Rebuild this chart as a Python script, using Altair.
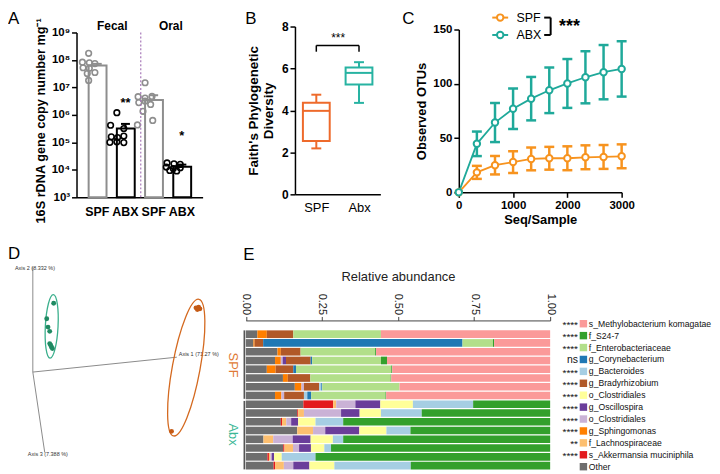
import altair as alt
import pandas as pd

FONT = "Liberation Sans"
BLACK = "#000000"

# ================= Panel A : 16S copy number =================
a_categories = ["Fecal SPF", "Fecal ABX", "Oral SPF", "Oral ABX"]
a_groups = ["SPF", "ABX", "SPF", "ABX"]
a_mean = [6.3e7, 3.2e5, 3.5e6, 1.3e4]
a_sem_top = [7.2e7, 4.7e5, 5.2e6, 1.55e4]
a_fecal_spf = [1.74e8, 8.3e7, 7.9e7, 7.4e7, 5.2e7, 5.0e7, 3.5e7, 3.2e7, 1.8e7]
a_fecal_spf_jit = [0.0, -0.9, 0.1, 0.9, -0.8, 0.1, 0.9, -0.2, 0.0]
a_fecal_abx = [1.2e6, 4.2e5, 3.2e5, 1.6e5, 1.5e5, 1.7e5, 1.0e5, 1.05e5, 0.98e5]
a_fecal_abx_jit = [0.0, -0.9, 1.0, -0.8, 0.1, 1.0, -1.0, 0.0, 1.0]
a_oral_spf = [1.48e7, 4.6e6, 4.1e6, 4.7e6, 2.8e6, 3.2e6, 2.4e6, 1.35e6, 6.3e5, 4.3e5]
a_oral_spf_jit = [0.0, -1.0, 0.0, 1.0, -0.9, 0.0, 0.8, -0.3, 1.1, -1.1]
a_oral_abx = [1.78e4, 1.66e4, 1.58e4, 1.26e4, 1.12e4, 1.2e4, 9.5e3, 9.1e3]
a_oral_abx_jit = [-0.9, 0.1, 1.0, -1.0, 0.0, 1.0, -0.5, 0.5]
a_sig_cat = ["Fecal ABX", "Oral ABX"]
a_sig_text = ["**", "*"]
a_sig_y = [2.8e6, 1.7e5]
a_ticks = [1e3, 1e4, 1e5, 1e6, 1e7, 1e8, 1e9]

# ================= Panel B : Faith's PD =================
b_groups = ["SPF", "Abx"]
b_min = [2.19, 4.36]
b_q1 = [2.54, 5.24]
b_median = [3.98, 5.79]
b_q3 = [4.37, 6.05]
b_max = [4.75, 6.30]
b_ticks = [0, 2, 4, 6, 8]

# ================= Panel C : rarefaction =================
c_depth = [0, 333, 667, 1000, 1333, 1667, 2000, 2333, 2667, 3000]
c_spf_mean = [0, 18.4, 25.0, 27.9, 30.8, 31.4, 31.4, 32.3, 32.6, 33.2]
c_spf_sem = [0, 6.0, 8.5, 10.0, 10.5, 10.5, 11.0, 11.0, 11.0, 11.0]
c_abx_mean = [0, 44.7, 64.3, 77.0, 86.3, 94.0, 100.3, 106.0, 110.7, 113.7]
c_abx_sem = [0, 11.3, 18.0, 18.7, 20.0, 21.0, 22.5, 24.0, 25.0, 25.5]

# ================= Panel D : PCoA (projected) =================
d_axis_names = ["Axis 1 (71.27 %)", "Axis 2 (8.332 %)", "Axis 3 (7.388 %)"]
d_axis_end_x = [1.45, 0.0, 0.12]
d_axis_end_y = [0.15, 1.06, -0.81]
d_label_x = [1.47, -0.18, -0.05]
d_label_y = [0.18, 1.05, -0.83]
d_abx_x = [0.21, 0.14, 0.153, 0.17, 0.17, 0.187, 0.197, 0.18]
d_abx_y = [0.693, 0.537, 0.453, 0.41, 0.287, 0.253, 0.237, 0.27]
d_spf_x = [1.643, 1.67, 1.683, 1.657, 1.397]
d_spf_y = [0.647, 0.653, 0.637, 0.63, -0.597]
d_ell_grp = ["ABX", "SPF"]
d_ell_cx = [0.19, 1.545]
d_ell_cy = [0.46, 0.045]
d_ell_size = [4096, 19600]
d_ell_angle = [3, 10.5]

# ================= Panel E : relative abundance =================
e_rows = ["SPF1", "SPF2", "SPF3", "SPF4", "SPF5", "SPF6", "SPF7", "SPF8",
          "Abx1", "Abx2", "Abx3", "Abx4", "Abx5", "Abx6", "Abx7", "Abx8"]
e_other = [0.038, 0.025, 0.104, 0.096, 0.069, 0.122, 0.161, 0.096,
           0.189, 0.169, 0.115, 0.169, 0.058, 0.123, 0.071, 0.091]
e_akkermansia = [0, 0, 0, 0, 0, 0, 0, 0,
                 0.098, 0.003, 0.004, 0, 0, 0.004, 0.005, 0.005]
e_lachno = [0, 0, 0, 0, 0, 0, 0, 0,
            0.010, 0.019, 0.014, 0.052, 0.032, 0.028, 0.005, 0.029]
e_sphingo = [0.031, 0.004, 0.011, 0.019, 0.029, 0.016, 0.022, 0.021,
             0, 0, 0, 0, 0, 0, 0, 0]
e_clostr_lav = [0, 0, 0, 0.006, 0, 0, 0.008, 0.009,
                0.063, 0.122, 0.016, 0.040, 0.064, 0.020, 0.004, 0.031]
e_oscillo = [0, 0, 0, 0.011, 0, 0, 0, 0,
             0.082, 0.061, 0.023, 0.112, 0.059, 0.039, 0.008, 0.053]
e_clostr_yel = [0, 0, 0, 0, 0, 0, 0, 0,
                0.107, 0.070, 0.057, 0.089, 0.073, 0.044, 0.025, 0.082]
e_brady = [0.087, 0.028, 0.065, 0.081, 0.058, 0.074, 0.050, 0.065,
           0, 0, 0, 0, 0, 0, 0, 0]
e_bactero = [0, 0, 0, 0, 0, 0, 0.007, 0.011,
             0.198, 0.134, 0.091, 0.079, 0.034, 0.022, 0.111, 0.251]
e_coryne = [0, 0.655, 0, 0.005, 0.009, 0, 0.003, 0.013,
            0, 0, 0, 0, 0, 0, 0, 0]
e_entero = [0.288, 0.100, 0.245, 0.226, 0.313, 0.264, 0.254, 0.244,
            0, 0, 0, 0, 0, 0, 0, 0]
e_s24 = [0, 0.004, 0.003, 0.020, 0.003, 0.002, 0, 0.002,
         0.253, 0.422, 0.680, 0.459, 0.680, 0.720, 0.771, 0.458]
e_methylo = [0.556, 0.184, 0.572, 0.536, 0.519, 0.522, 0.495, 0.539,
             0, 0, 0, 0, 0, 0, 0, 0]

e_stack_keys = ["Other", "s_Akkermansia muciniphila", "f_Lachnospiraceae", "g_Sphingomonas",
                "o_Clostridiales#2", "g_Oscillospira", "o_Clostridiales#1", "g_Bradyrhizobium",
                "g_Bacteroides", "g_Corynebacterium", "f_Enterobacteriaceae", "f_S24-7",
                "s_Methylobacterium komagatae"]
e_stack_values = [e_other, e_akkermansia, e_lachno, e_sphingo, e_clostr_lav, e_oscillo,
                  e_clostr_yel, e_brady, e_bactero, e_coryne, e_entero, e_s24, e_methylo]
e_colors = ["#6e6e6e", "#e31a1c", "#fdbf6f", "#ff7f00", "#cab2d6", "#6a3d9a", "#ffff99",
            "#b15928", "#a6cee3", "#1f78b4", "#b2df8a", "#33a02c", "#fb9a99"]
e_legend_keys = list(reversed(e_stack_keys))
e_legend_stars = ["****", "****", "****", "ns", "****", "****", "****", "****",
                  "****", "****", "**", "****", ""]

# ---------------------------------------------------------------------------
# One canvas (704 x 462); every panel has its own scales whose pixel ranges
# place it on the canvas.
W, H = 704, 462
one = pd.DataFrame({"k": [0]})


def letter(txt, px, py):
    return alt.Chart(one).mark_text(text=txt, fontSize=17, align="left", baseline="top",
                                    color=BLACK).encode(x=alt.value(px), y=alt.value(py))


def label(txt, px, py, **kw):
    return alt.Chart(one).mark_text(text=txt, **kw).encode(x=alt.value(px), y=alt.value(py))


def axis_style(**kw):
    base = dict(tickSize=5, tickWidth=1.5, tickColor=BLACK, domainColor=BLACK, domainWidth=1.5,
                labelColor=BLACK, titleColor=BLACK, grid=False)
    base.update(kw)
    return alt.Axis(**base)


# ---------------- Panel A ----------------
A_GRAY = "#8e8e8e"
a_bar_df = pd.DataFrame({"cat": a_categories, "grp": a_groups, "val": a_mean, "top": a_sem_top})
rows = []
for cat, grp, vals, jits in [("Fecal SPF", "SPF", a_fecal_spf, a_fecal_spf_jit),
                             ("Fecal ABX", "ABX", a_fecal_abx, a_fecal_abx_jit),
                             ("Oral SPF", "SPF", a_oral_spf, a_oral_spf_jit),
                             ("Oral ABX", "ABX", a_oral_abx, a_oral_abx_jit)]:
    for v, j in zip(vals, jits):
        rows.append({"cat": cat, "grp": grp, "val": v, "jit": j})
a_pts_df = pd.DataFrame(rows)
a_sig_df = pd.DataFrame({"cat": a_sig_cat, "val": a_sig_y, "txt": a_sig_text})

sup = "['\u2070','\u00b9','\u00b2','\u00b3','\u2074','\u2075','\u2076','\u2077','\u2078','\u2079']"
a_x = alt.X("cat:N", sort=a_categories,
            scale=alt.Scale(domain=a_categories, range=[69, 196], paddingInner=0.39,
                            paddingOuter=0.43),
            axis=axis_style(orient="bottom", offset=-274, title=None, ticks=False, labelAngle=0,
                            labelExpr="split(datum.label, ' ')[1]", labelFontSize=12.5,
                            labelFontWeight="bold", labelPadding=8))
a_y_scale = alt.Scale(type="log", domain=[1e3, 1e9], range=[188, 22], nice=False)
a_y_axis = axis_style(orient="left", offset=-69, values=a_ticks,
                      labelExpr="'10' + " + sup + "[round(log(datum.value) / LN10)]",
                      title="16S rDNA gene copy number mg\u207b\u00b9", titleFontSize=12.8,
                      titleFontWeight="bold", titleY=110.5, labelFontSize=11.5,
                      labelFontWeight="bold", labelPadding=2, titlePadding=4)
a_stroke = alt.Stroke("grp:N", scale=alt.Scale(domain=["SPF", "ABX"], range=[A_GRAY, BLACK]), legend=None)
a_color = alt.Color("grp:N", scale=alt.Scale(domain=["SPF", "ABX"], range=[A_GRAY, BLACK]), legend=None)


def a_y(field):
    return alt.Y(field, scale=a_y_scale, axis=a_y_axis)


a_bars = alt.Chart(a_bar_df).mark_bar(fill="white", strokeWidth=2).encode(
    x=a_x, y=a_y("val:Q"), y2=alt.datum(1e3), stroke=a_stroke)
a_err = alt.Chart(a_bar_df).mark_rule(strokeWidth=2).encode(
    x=a_x, y=a_y("val:Q"), y2="top:Q", stroke=a_stroke)
a_cap = alt.Chart(a_bar_df).mark_tick(size=9, thickness=2, opacity=1).encode(
    x=a_x, y=a_y("top:Q"), color=a_color)
a_pts = alt.Chart(a_pts_df).mark_point(shape="circle", filled=False, size=32, strokeWidth=1.6,
                                       opacity=1).encode(
    x=a_x, xOffset=alt.XOffset("jit:Q", scale=alt.Scale(domain=[-1, 1], range=[-7, 7])),
    y=a_y("val:Q"), stroke=a_stroke)
a_sig = alt.Chart(a_sig_df).mark_text(fontSize=13, fontWeight="bold", color=BLACK).encode(
    x=a_x, y=a_y("val:Q"), text="txt:N")
a_sep = alt.Chart(one).mark_rule(strokeDash=[2, 2], color="#a678b8", strokeWidth=1.2).encode(
    x=alt.value(133.7), y=alt.value(22), y2=alt.value(188))
panel_a = alt.layer(
    a_bars, a_err, a_cap, a_pts, a_sig, a_sep,
    label("Fecal", 105, 15.5, fontSize=12, fontWeight="bold", color=BLACK),
    label("Oral", 164, 15.5, fontSize=12, fontWeight="bold", color=BLACK),
    letter("A", 0, 0))

# ---------------- Panel B ----------------
B_COLORS = ["#ee6a2b", "#27b3a2"]
b_df = pd.DataFrame({"grp": b_groups, "mn": b_min, "q1": b_q1, "med": b_median,
                     "q3": b_q3, "mx": b_max})
b_x_scale = alt.Scale(type="point", domain=b_groups, range=[289, 375], padding=0.5)
b_x = alt.X("grp:N", sort=b_groups, scale=b_x_scale,
            axis=axis_style(orient="bottom", offset=-277, title=None, ticks=False, labelAngle=0,
                            labelFontSize=13, labelFontWeight="normal", labelPadding=7))
b_y_scale = alt.Scale(domain=[0, 8], range=[185, 16], nice=False)
b_y_axis = axis_style(orient="left", offset=-289, values=b_ticks,
                      title=["Faith's Phylogenetic", "Diversity"], titleFontSize=13.5,
                      titleFontWeight="bold", labelFontSize=12, labelFontWeight="bold",
                      labelPadding=2, titlePadding=6)
b_stroke = alt.Stroke("grp:N", scale=alt.Scale(domain=b_groups, range=B_COLORS), legend=None)
b_color = alt.Color("grp:N", scale=alt.Scale(domain=b_groups, range=B_COLORS), legend=None)


def b_y(field):
    return alt.Y(field, scale=b_y_scale, axis=b_y_axis)


b_wlo = alt.Chart(b_df).mark_rule(strokeWidth=2).encode(x=b_x, y=b_y("mn:Q"), y2="q1:Q", color=b_color)
b_whi = alt.Chart(b_df).mark_rule(strokeWidth=2).encode(x=b_x, y=b_y("q3:Q"), y2="mx:Q", color=b_color)
b_box = alt.Chart(b_df).mark_bar(fill="white", strokeWidth=2, size=27).encode(
    x=b_x, y=b_y("q1:Q"), y2="q3:Q", stroke=b_stroke)
b_med = alt.Chart(b_df).mark_tick(size=27, thickness=2, opacity=1).encode(
    x=b_x, y=b_y("med:Q"), color=b_color)
b_capl = alt.Chart(b_df).mark_tick(size=10, thickness=2, opacity=1).encode(
    x=b_x, y=b_y("mn:Q"), color=b_color)
b_caph = alt.Chart(b_df).mark_tick(size=10, thickness=2, opacity=1).encode(
    x=b_x, y=b_y("mx:Q"), color=b_color)
b_br_df = pd.DataFrame({"grp": ["SPF"], "g2": ["Abx"], "yb": [7.1]})
b_drop_df = pd.DataFrame({"grp": b_groups, "yb": [7.1, 7.1], "yd": [6.8, 6.8]})
b_br = alt.Chart(b_br_df).mark_rule(strokeWidth=1.5, color=BLACK).encode(
    x=b_x, x2="g2:N", y=b_y("yb:Q"))
b_drop = alt.Chart(b_drop_df).mark_rule(strokeWidth=1.5, color=BLACK).encode(
    x=b_x, y=b_y("yb:Q"), y2="yd:Q")
b_star = alt.Chart(pd.DataFrame({"ys": [7.45]})).mark_text(text="***", fontSize=12, color=BLACK).encode(
    x=alt.value(332.5), y=b_y("ys:Q"))
panel_b = alt.layer(b_wlo, b_whi, b_box, b_med, b_capl, b_caph, b_br, b_drop, b_star,
                    letter("B", 239, 0))

# ---------------- Panel C ----------------
C_COLORS = ["#f7931e", "#1fa99a"]
c_rows = []
for grp, means, sems in [("SPF", c_spf_mean, c_spf_sem), ("ABX", c_abx_mean, c_abx_sem)]:
    for d, m, s in zip(c_depth, means, sems):
        c_rows.append({"grp": grp, "depth": d, "mean": m, "sem": s})
c_df = pd.DataFrame(c_rows)
c_x = alt.X("depth:Q", scale=alt.Scale(domain=[0, 3000], range=[454, 618], nice=False),
            axis=axis_style(orient="bottom", offset=-279, values=[0, 1000, 2000, 3000], format="d",
                            title="Seq/Sample", titleFontSize=13, titleFontWeight="bold",
                            labelFontSize=11.5, labelFontWeight="bold", labelFlush=False,
                            titlePadding=3))
c_y_scale = alt.Scale(domain=[0, 150], range=[183, 19], nice=False)
c_y_axis = axis_style(orient="left", offset=-454, values=[0, 50, 100, 150], title="Observed OTUs",
                      titleFontSize=13, titleFontWeight="bold", labelFontSize=11.5,
                      labelFontWeight="bold", labelPadding=2)
c_color = alt.Color("grp:N", scale=alt.Scale(domain=["SPF", "ABX"], range=C_COLORS), legend=None)
c_stroke = alt.Stroke("grp:N", scale=alt.Scale(domain=["SPF", "ABX"], range=C_COLORS), legend=None)


def c_y(field):
    return alt.Y(field, scale=c_y_scale, axis=c_y_axis)


c_base = alt.Chart(c_df)
c_err_base = c_base.transform_filter("datum.sem > 0").transform_calculate(
    lo="datum.mean - datum.sem", hi="datum.mean + datum.sem")
c_line = c_base.mark_line(strokeWidth=1.8).encode(x=c_x, y=c_y("mean:Q"), color=c_color)
c_err = c_err_base.mark_rule(strokeWidth=2.5).encode(x=c_x, y=c_y("lo:Q"), y2="hi:Q", color=c_color)
c_caplo = c_err_base.mark_tick(orient="horizontal", size=10, thickness=2.5, opacity=1).encode(
    x=c_x, y=c_y("lo:Q"), color=c_color)
c_caphi = c_err_base.mark_tick(orient="horizontal", size=10, thickness=2.5, opacity=1).encode(
    x=c_x, y=c_y("hi:Q"), color=c_color)
c_pts = c_base.mark_point(shape="circle", filled=True, fill="white", size=42, strokeWidth=2,
                          opacity=1).encode(x=c_x, y=c_y("mean:Q"), stroke=c_stroke)
c_layers = [c_line, c_err, c_caplo, c_caphi, c_pts]
for name, col, ry in [("SPF", C_COLORS[0], 7), ("ABX", C_COLORS[1], 24.5)]:
    c_layers.append(alt.Chart(one).mark_rule(strokeWidth=2, color=col).encode(
        x=alt.value(487.7), x2=alt.value(503.7), y=alt.value(ry)))
    c_layers.append(alt.Chart(one).mark_point(shape="circle", filled=True, fill="white", size=42,
                                              strokeWidth=2, stroke=col, opacity=1).encode(
        x=alt.value(495.7), y=alt.value(ry)))
    c_layers.append(label(name, 512, ry, fontSize=12.5, align="left", baseline="middle", color=BLACK))
    c_layers.append(alt.Chart(one).mark_rule(strokeWidth=2, color=BLACK).encode(
        x=alt.value(540), x2=alt.value(546.5), y=alt.value(ry)))
c_layers.append(alt.Chart(one).mark_rule(strokeWidth=2, color=BLACK).encode(
    x=alt.value(546.5), y=alt.value(7), y2=alt.value(24.5)))
c_layers.append(label("***", 555, 17, fontSize=18, fontWeight="bold", align="left",
                      baseline="middle", color=BLACK))
c_layers.append(letter("C", 397, 0))
panel_c = alt.layer(*c_layers)

# ---------------- Panel D ----------------
d_axes_df = pd.DataFrame({"name": d_axis_names, "x0": [0, 0, 0], "y0": [0, 0, 0],
                          "x1": d_axis_end_x, "y1": d_axis_end_y,
                          "lx": d_label_x, "ly": d_label_y})
d_pts_df = pd.DataFrame({"grp": ["ABX"] * len(d_abx_x) + ["SPF"] * len(d_spf_x),
                         "px": d_abx_x + d_spf_x, "py": d_abx_y + d_spf_y})
d_ell_df = pd.DataFrame({"grp": d_ell_grp, "px": d_ell_cx, "py": d_ell_cy,
                         "sz": d_ell_size, "ang": d_ell_angle})
d_xs = alt.Scale(domain=[-0.25, 2.145], range=[0, 239.5], nice=False, zero=False)
d_ys = alt.Scale(domain=[-0.98, 0.42], range=[462, 322], nice=False, zero=False)
ELLIPSE = ("M0,-1 C0.1105,-1 0.2,-0.5523 0.2,0 C0.2,0.5523 0.1105,1 0,1 "
           "C-0.1105,1 -0.2,0.5523 -0.2,0 C-0.2,-0.5523 -0.1105,-1 0,-1 Z")
d_lines = alt.Chart(d_axes_df).mark_rule(color="#8a8a8a", strokeWidth=1).encode(
    x=alt.X("x0:Q", scale=d_xs, axis=None), y=alt.Y("y0:Q", scale=d_ys, axis=None),
    x2="x1:Q", y2="y1:Q")
d_labels = alt.Chart(d_axes_df).mark_text(fontSize=5.5, align="left", baseline="middle",
                                          color="#333333").encode(
    x=alt.X("lx:Q", scale=d_xs, axis=None), y=alt.Y("ly:Q", scale=d_ys, axis=None), text="name:N")
d_ell = alt.Chart(d_ell_df).mark_point(shape=ELLIPSE, filled=False, strokeWidth=1.3, opacity=1).encode(
    x=alt.X("px:Q", scale=d_xs, axis=None), y=alt.Y("py:Q", scale=d_ys, axis=None),
    size=alt.Size("sz:Q", scale=None), angle=alt.Angle("ang:Q", scale=None),
    stroke=alt.Stroke("grp:N", scale=alt.Scale(domain=["ABX", "SPF"], range=["#3aaf8c", "#d4691f"]),
                      legend=None))
d_pts = alt.Chart(d_pts_df).mark_circle(size=24, opacity=1).encode(
    x=alt.X("px:Q", scale=d_xs, axis=None), y=alt.Y("py:Q", scale=d_ys, axis=None),
    color=alt.Color("grp:N", scale=alt.Scale(domain=["ABX", "SPF"], range=["#1f8a62", "#c55a15"]),
                    legend=None))
panel_d = alt.layer(d_lines, d_labels, d_ell, d_pts, letter("D", 0, 237))

# ---------------- Panel E ----------------
e_long = []
for i, (key, vals) in enumerate(zip(e_stack_keys, e_stack_values)):
    for r, v in zip(e_rows, vals):
        e_long.append({"row": r, "taxon": key, "frac": v, "ord": i})
e_df = pd.DataFrame(e_long)
e_color = alt.Color("taxon:N", scale=alt.Scale(domain=e_stack_keys, range=e_colors), legend=None)
e_bars = alt.Chart(e_df).mark_bar().encode(
    x=alt.X("frac:Q", stack="zero", scale=alt.Scale(domain=[0, 1], range=[239.5, 546], nice=False),
            axis=alt.Axis(orient="top", offset=-312, values=[0, 0.25, 0.5, 0.75, 1.0], format=".2f",
                          labelAngle=90, labelAlign="right", labelBaseline="middle",
                          labelFontSize=11, tickSize=4, title="Relative abundance",
                          titleFontSize=13, titleFontWeight="normal", titlePadding=10,
                          domainColor="#444444", tickColor="#444444", labelColor="#222222",
                          titleColor="#222222", labelPadding=2, labelFlush=False, grid=False)),
    y=alt.Y("row:N", sort=e_rows,
            scale=alt.Scale(domain=e_rows, range=[322, 462], paddingInner=0.12, paddingOuter=0),
            axis=None),
    color=e_color, order=alt.Order("ord:Q", sort="ascending"))
e_grp_df = pd.DataFrame({"grp": ["SPF", "Abx"]})
e_grp_y = alt.Y("grp:N", sort=["SPF", "Abx"],
                scale=alt.Scale(domain=["SPF", "Abx"], range=[322, 462], paddingInner=0.03,
                                paddingOuter=0), axis=None)
e_brk = alt.Chart(e_grp_df).mark_bar(color="#555555").encode(
    x=alt.value(237.2), x2=alt.value(238.9), y=e_grp_y)
e_lbl_layers = []
for g, col in [("SPF", "#e07a34"), ("Abx", "#3bb795")]:
    e_lbl_layers.append(alt.Chart(e_grp_df).transform_filter(f"datum.grp == '{g}'").mark_text(
        angle=90, fontSize=13, color=col, baseline="middle", align="center").encode(
        x=alt.value(227), y=e_grp_y, text="grp:N"))
e_leg_df = pd.DataFrame({"taxon": e_legend_keys,
                         "label": [k.split("#")[0] for k in e_legend_keys],
                         "stars": e_legend_stars})
e_leg_y = alt.Y("taxon:N", sort=e_legend_keys,
                scale=alt.Scale(domain=e_legend_keys, range=[309.3, 465.3], paddingInner=0,
                                paddingOuter=0), axis=None)
e_leg_sq = alt.Chart(e_leg_df).mark_square(size=56, opacity=1).encode(
    x=alt.value(579.5), y=e_leg_y, color=e_color)
e_leg_txt = alt.Chart(e_leg_df).mark_text(fontSize=8.7, align="left", baseline="middle",
                                          color="#111111").encode(
    x=alt.value(585), y=e_leg_y, text="label:N")
e_leg_st = alt.Chart(e_leg_df).transform_filter("datum.stars != 'ns'").mark_text(
    fontSize=10, align="right", baseline="middle", dy=1.5, color="#111111").encode(
    x=alt.value(574), y=e_leg_y, text="stars:N")
e_leg_ns = alt.Chart(e_leg_df).transform_filter("datum.stars == 'ns'").mark_text(
    fontSize=10.5, align="right", baseline="middle", dy=0.5, color="#111111").encode(
    x=alt.value(574), y=e_leg_y, text="stars:N")
panel_e = alt.layer(e_bars, e_brk, *e_lbl_layers, e_leg_sq, e_leg_txt, e_leg_st, e_leg_ns,
                    letter("E", 237, 238)).resolve_scale(y="independent")

# ---------------- Canvas ----------------
chart = alt.layer(panel_a, panel_b, panel_c, panel_d, panel_e).resolve_scale(
    x="independent", y="independent", color="independent", stroke="independent"
).properties(width=W, height=H, padding=0).configure_view(stroke=None).configure_axis(
    grid=False, labelFont=FONT, titleFont=FONT).configure_text(font=FONT)

chart.save("out.html", embed_options={"renderer": "svg", "actions": False})
